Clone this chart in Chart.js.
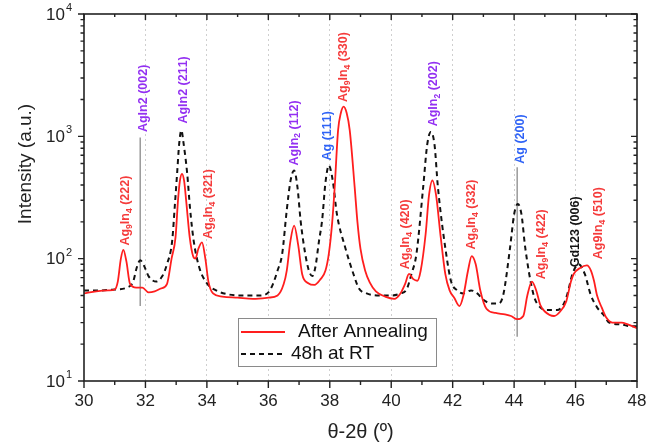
<!DOCTYPE html>
<html>
<head>
<meta charset="utf-8">
<script src="https://cdn.jsdelivr.net/npm/chart.js@4.4.1/dist/chart.umd.min.js"></script>
<style>
  html, body { margin: 0; padding: 0; background: #fff; }
</style>
</head>
<body>
<canvas id="xrd" width="664" height="447"></canvas>
<script>
// After Annealing (red, solid)
const annealX = [30.0, 30.4, 30.8, 31.0, 31.1, 31.2, 31.28, 31.38, 31.5, 31.7, 31.9, 32.1, 32.3, 32.5, 32.7,
  32.85, 32.98, 33.06, 33.12, 33.19, 33.26, 33.33, 33.44, 33.55, 33.63, 33.72, 33.84, 33.95, 34.05, 34.2,
  34.5, 35.0, 35.5, 36.0, 36.3, 36.5, 36.6, 36.72, 36.84, 36.97, 37.1, 37.3, 37.5, 37.7, 37.86,
  37.97, 38.08, 38.16, 38.27, 38.36, 38.45, 38.55, 38.65, 38.81, 38.9, 39.0, 39.15, 39.3, 39.5, 39.8,
  40.1, 40.3, 40.45, 40.58, 40.72, 40.85, 40.96, 41.12, 41.23, 41.34, 41.46, 41.6, 41.76, 41.9, 42.05,
  42.22, 42.35, 42.5, 42.62, 42.75, 42.9, 43.1, 43.4, 43.7, 43.9, 44.1, 44.3, 44.43, 44.58, 44.72,
  44.85, 45.0, 45.3, 45.5, 45.7, 45.85, 45.94, 46.15, 46.37, 46.5, 46.6, 46.7, 46.85, 47.0, 47.2,
  47.5, 47.7, 48.0];
const annealY = [52, 54, 55, 56, 65, 100, 118, 95, 62, 58, 58, 53, 54, 57, 62,
  100, 150, 300, 430, 494, 430, 290, 150, 105, 100, 120, 136, 100, 65, 52,
  49, 48, 47, 48, 50, 62, 80, 140, 186, 130, 75, 63, 61, 68, 80,
  110, 200, 384, 1120, 1550, 1750, 1550, 1120, 384, 200, 120, 80, 64, 54, 49,
  47, 52, 62, 75, 68, 66, 80, 159, 330, 437, 330, 159, 75, 55, 48,
  41, 50, 80, 105, 90, 55, 39, 36, 35, 34, 32, 34, 50, 65, 55,
  42, 37, 34, 37, 45, 65, 75, 84, 88, 80, 66, 50, 40, 33, 30,
  30, 29, 27];

// 48h at RT (black, dashed)
const rtX = [30.0, 30.5, 31.0, 31.4, 31.6, 31.72, 31.83, 31.95, 32.1, 32.35, 32.55, 32.7, 32.87, 32.96, 33.03,
  33.1, 33.17, 33.24, 33.36, 33.45, 33.57, 33.75, 34.0, 34.3, 34.7, 35.2, 35.7, 36.0, 36.15, 36.3,
  36.45, 36.6, 36.72, 36.84, 36.95, 37.05, 37.2, 37.32, 37.43, 37.53, 37.65, 37.75, 37.86, 37.97, 38.1,
  38.23, 38.5, 38.77, 38.95, 39.2, 39.6, 40.0, 40.3, 40.5, 40.66, 40.82, 41.04, 41.17, 41.29, 41.41,
  41.52, 41.79, 41.95, 42.15, 42.35, 42.6, 42.8, 43.0, 43.3, 43.5, 43.65, 43.87, 44.0, 44.12, 44.24,
  44.36, 44.63, 44.85, 45.1, 45.4, 45.6, 45.73, 45.9, 46.1, 46.3, 46.49, 46.7, 46.9, 47.1, 47.5,
  47.8, 48.0];
const rtY = [55, 55, 56, 58, 65, 85, 97, 88, 72, 65, 72, 90, 140, 280, 494,
  880, 1120, 880, 494, 260, 140, 85, 63, 55, 51, 50, 50, 53, 62, 80,
  109, 250, 430, 525, 380, 205, 110, 80, 72, 85, 140, 205, 420, 578, 430,
  233, 124, 75, 57, 52, 50, 50, 52, 56, 75, 109, 384, 850, 1086, 850,
  384, 109, 65, 55, 52, 55, 52, 46, 43, 43, 51, 124, 230, 280, 230,
  124, 51, 40, 38, 38, 42, 51, 75, 90, 75, 51, 40, 35, 30, 29,
  28, 28];

// grey reference lines
const markerX = [31.83, 44.1];
const markerTop = [980, 560];
const markerBottom = [41, 23];

// peak labels
const peakText = ['Ag_9In_4 (222)', 'AgIn2 (002)', 'AgIn2 (211)', 'Ag_9In_4 (321)', 'AgIn_2 (112)', 'Ag (111)',
  'Ag_9In_4 (330)', 'Ag_9In_4 (420)', 'AgIn_2 (202)', 'Ag_9In_4 (332)', 'Ag (200)', 'Ag_9In_4 (422)',
  'Gd123 (006)', 'Ag9In_4 (510)'];
const peakX = [31.36, 31.95, 33.25, 34.05, 36.84, 37.94, 38.45, 40.47, 41.39, 42.62, 44.2, 44.9, 46.0, 46.76];
const peakY = [128, 1084, 1271, 145, 578, 635, 1910, 82, 1208, 119, 597, 68, 85, 99];
const peakKind = ['r', 'p', 'p', 'r', 'p', 'b', 'r', 'r', 'p', 'r', 'b', 'r', 'k', 'r'];

const yPowers = [1, 2, 3, 4];

const FONT = 'Arial, "Liberation Sans", Helvetica, sans-serif';
const kindColor = { r: '#f53b3b', p: '#9330f2', b: '#2f63f6', k: '#111111' };

function drawRich(ctx, text, size) {
  // "_x" makes the next character a subscript
  let pos = 0;
  for (let i = 0; i < text.length; i++) {
    let ch = text[i];
    let sub = false;
    if (ch === '_' && i + 1 < text.length) {
      sub = true;
      ch = text[++i];
    }
    ctx.font = 'bold ' + (sub ? size * 0.68 : size) + 'px ' + FONT;
    ctx.fillText(ch, pos, sub ? size * 0.3 : 0);
    pos += ctx.measureText(ch).width;
  }
}

const framePlugin = {
  id: 'frame',
  afterDatasetsDraw(chart) {
    const ctx = chart.ctx;
    const a = chart.chartArea;
    const xs = chart.scales.x;
    const ys = chart.scales.y;

    // peak labels
    ctx.save();
    ctx.textBaseline = 'middle';
    ctx.textAlign = 'left';
    peakText.forEach(function (t, i) {
      ctx.save();
      ctx.fillStyle = kindColor[peakKind[i]];
      ctx.translate(xs.getPixelForValue(peakX[i]), ys.getPixelForValue(peakY[i]));
      ctx.rotate(-Math.PI / 2);
      drawRich(ctx, t, 12.5);
      ctx.restore();
    });
    ctx.restore();

    // legend box
    const d0 = chart.data.datasets[0];
    const d1 = chart.data.datasets[1];
    ctx.save();
    ctx.fillStyle = '#fff';
    ctx.fillRect(238.5, 318.5, 198, 48);
    ctx.strokeStyle = '#8a8a8a';
    ctx.lineWidth = 1;
    ctx.strokeRect(238.5, 318.5, 198, 48);
    ctx.lineWidth = d0.borderWidth;
    ctx.strokeStyle = d0.borderColor;
    ctx.beginPath(); ctx.moveTo(241, 332); ctx.lineTo(285, 332); ctx.stroke();
    ctx.lineWidth = d1.borderWidth;
    ctx.strokeStyle = d1.borderColor;
    ctx.setLineDash(d1.borderDash);
    ctx.beginPath(); ctx.moveTo(241, 354); ctx.lineTo(285, 354); ctx.stroke();
    ctx.setLineDash([]);
    ctx.fillStyle = '#111';
    ctx.font = '19px ' + FONT;
    ctx.textBaseline = 'middle';
    ctx.fillText(d0.label, 298, 332);
    ctx.fillText(d1.label, 291, 354);
    ctx.restore();

    // frame and ticks
    ctx.save();
    ctx.strokeStyle = '#222';
    ctx.lineWidth = 1.6;
    ctx.strokeRect(a.left, a.top, a.right - a.left, a.bottom - a.top);
    ctx.lineWidth = 1.4;
    ctx.beginPath();
    for (let v = xs.min; v <= xs.max; v += 1) {
      const px = xs.getPixelForValue(v);
      const major = v % 2 === 0;
      ctx.moveTo(px, a.bottom); ctx.lineTo(px, a.bottom + (major ? 7 : 4));
      ctx.moveTo(px, a.top); ctx.lineTo(px, a.top + (major ? 6 : 3));
    }
    for (let p = 1; p <= 4; p++) {
      for (let m = 1; m <= 9; m++) {
        const v = m * Math.pow(10, p);
        if (v > ys.max) break;
        const py = ys.getPixelForValue(v);
        const major = m === 1;
        ctx.moveTo(a.left, py); ctx.lineTo(a.left - (major ? 6 : 3.5), py);
        ctx.moveTo(a.right, py); ctx.lineTo(a.right - (major ? 6 : 3.5), py);
      }
    }
    ctx.stroke();

    // y tick labels 10^n
    ctx.fillStyle = '#222';
    yPowers.forEach(function (p) {
      const py = ys.getPixelForValue(Math.pow(10, p));
      ctx.font = '17px ' + FONT;
      ctx.textAlign = 'right';
      ctx.textBaseline = 'middle';
      ctx.fillText('10', 65, py + 1);
      ctx.font = '11px ' + FONT;
      ctx.textAlign = 'left';
      ctx.fillText(String(p), 66, py - 6);
    });

    // y title
    ctx.translate(26, 164);
    ctx.rotate(-Math.PI / 2);
    ctx.font = '19px ' + FONT;
    ctx.textAlign = 'center';
    ctx.textBaseline = 'middle';
    ctx.fillText('Intensity (a.u.)', 0, 0);
    ctx.restore();
  }
};

const markerSets = markerX.map(function (x, i) {
  return {
    label: 'marker' + i,
    data: [{ x: x, y: markerTop[i] }, { x: x, y: markerBottom[i] }],
    borderColor: '#9a9a9a',
    borderWidth: 1.5,
    pointRadius: 0
  };
});

new Chart(document.getElementById('xrd'), {
  type: 'line',
  data: {
    datasets: [{
      label: 'After Annealing',
      data: annealX.map(function (x, i) { return { x: x, y: annealY[i] }; }),
      borderColor: '#ff1e1e',
      borderWidth: 1.8,
      pointRadius: 0,
      cubicInterpolationMode: 'monotone'
    }, {
      label: '48h at RT',
      data: rtX.map(function (x, i) { return { x: x, y: rtY[i] }; }),
      borderColor: '#111',
      borderWidth: 2,
      borderDash: [5, 4],
      pointRadius: 0,
      cubicInterpolationMode: 'monotone'
    }].concat(markerSets)
  },
  options: {
    responsive: false,
    animation: false,
    layout: { padding: { top: 14, right: 27, left: 0, bottom: 0 } },
    plugins: { legend: { display: false }, tooltip: { enabled: false } },
    scales: {
      x: {
        type: 'linear',
        min: 30,
        max: 48,
        ticks: { stepSize: 2, color: '#222', padding: 10, font: { family: FONT, size: 17 } },
        grid: {
          drawTicks: false,
          lineWidth: 1,
          color: function (c) {
            return c.tick && c.tick.value > 30 && c.tick.value < 48 ? '#cfcfcf' : 'rgba(0,0,0,0)';
          }
        },
        border: { display: false, dash: [2, 3] },
        title: {
          display: true,
          text: 'θ-2θ (º)',
          color: '#222',
          font: { family: FONT, size: 20 },
          padding: { top: 0, bottom: 3 }
        },
        afterFit: function (s) { s.height = 66; }
      },
      y: {
        type: 'logarithmic',
        min: 10,
        max: 10000,
        ticks: { display: false },
        grid: { display: false },
        border: { display: false },
        afterFit: function (s) { s.width = 84; }
      }
    }
  },
  plugins: [framePlugin]
});
</script>
</body>
</html>
